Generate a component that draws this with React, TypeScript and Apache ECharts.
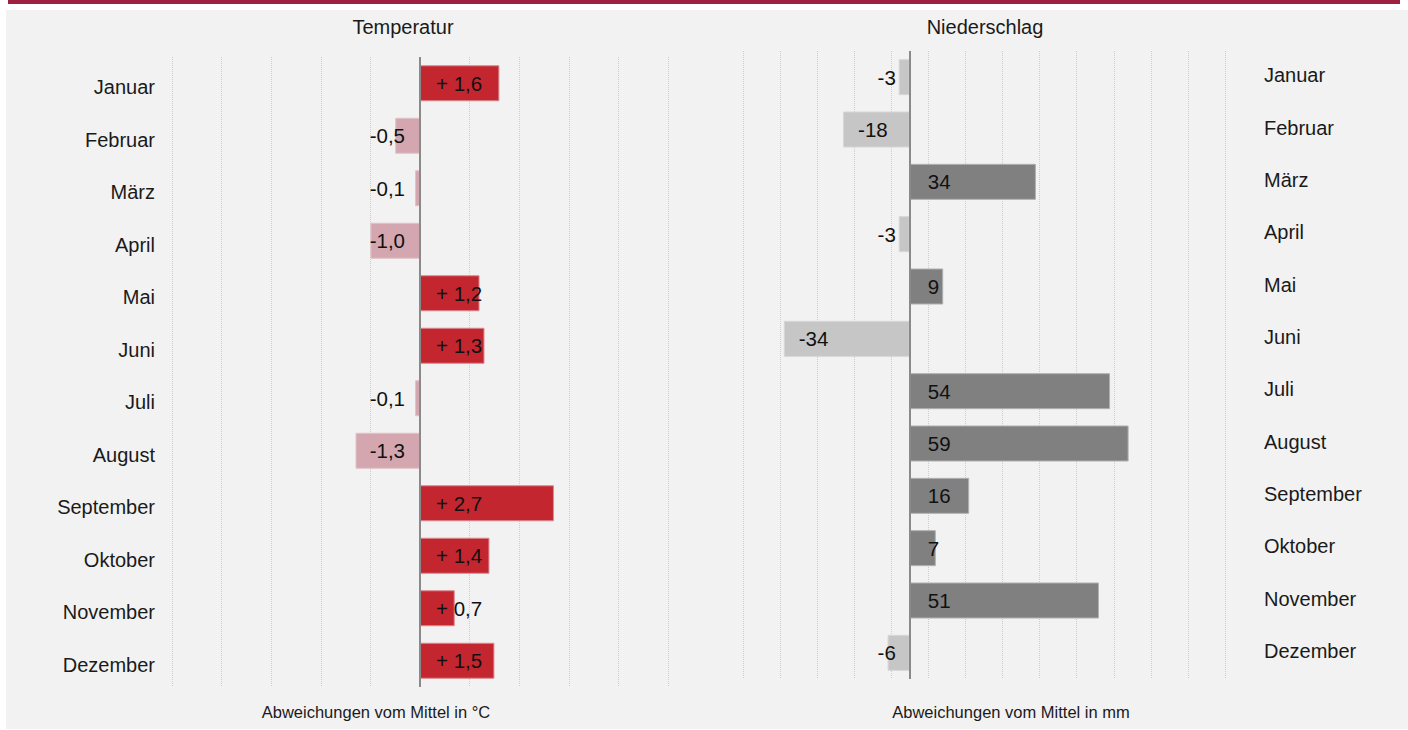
import React, { useEffect, useRef } from "react";
import * as echarts from "echarts";

const months = ["Januar", "Februar", "März", "April", "Mai", "Juni", "Juli", "August", "September", "Oktober", "November", "Dezember"];
const tempValues = [1.6, -0.5, -0.1, -1.0, 1.2, 1.3, -0.1, -1.3, 2.7, 1.4, 0.7, 1.5];
const precipValues = [-3, -18, 34, -3, 9, -34, 54, 59, 16, 7, 51, -6];
const tempAxisMin = -5;
const tempAxisMax = 5;
const tempAxisInterval = 1;
const precipAxisMin = -45;
const precipAxisMax = 85;
const precipGridInterval = 10;

const FONT = "'Liberation Sans', Arial, sans-serif";
const RED = "#c3262f";
const PINK = "#d4a7b0";
const DARK = "#808080";
const LIGHT = "#c6c6c6";

function fmtTemp(v: number) {
  const s = Math.abs(v).toFixed(1).replace(".", ",");
  return v > 0 ? "+ " + s : "-" + s;
}

export default function App() {
  const ref = useRef<HTMLDivElement>(null);
  useEffect(() => {
    if (!ref.current) return;
    const chart = echarts.init(ref.current, undefined, { renderer: "svg" });
    const splitLine = { show: true, lineStyle: { type: "dotted", color: "#cccccc", width: 1 } };
    const zeroLine = () => ({
      silent: true,
      symbol: ["none", "none"],
      label: { show: false },
      lineStyle: { type: "solid", color: "#8a8a8a", width: 2 },
      data: [{ xAxis: 0 }],
    });
    const option: any = {
      animation: false,
      backgroundColor: "#ffffff",
      textStyle: { fontFamily: FONT },
      graphic: [
        { type: "rect", z: -10, shape: { x: 6, y: 10, width: 1402, height: 719 }, style: { fill: "#f2f2f2" } },
        { type: "rect", z: -10, shape: { x: 8, y: 0, width: 1392, height: 4 }, style: { fill: "#9d2141" } },
        { type: "text", x: 403, y: 27, style: { text: "Temperatur", fontFamily: FONT, fontSize: 20, fill: "#1a1a1a", align: "center", verticalAlign: "middle" } },
        { type: "text", x: 985, y: 27, style: { text: "Niederschlag", fontFamily: FONT, fontSize: 20, fill: "#1a1a1a", align: "center", verticalAlign: "middle" } },
        { type: "text", x: 376, y: 712, style: { text: "Abweichungen vom Mittel in °C", fontFamily: FONT, fontSize: 16.5, fill: "#1a1a1a", align: "center", verticalAlign: "middle" } },
        { type: "text", x: 1011, y: 712, style: { text: "Abweichungen vom Mittel in mm", fontFamily: FONT, fontSize: 16.5, fill: "#1a1a1a", align: "center", verticalAlign: "middle" } },
      ],
      grid: [
        { left: 172, width: 496, top: 57, height: 630 },
        { left: 743, width: 482, top: 51, height: 628 },
      ],
      xAxis: [
        {
          gridIndex: 0, type: "value", min: tempAxisMin, max: tempAxisMax, interval: tempAxisInterval,
          axisLabel: { show: false }, axisLine: { show: false }, axisTick: { show: false }, splitLine,
        },
        {
          gridIndex: 1, type: "value", min: precipAxisMin, max: precipAxisMax,
          axisLabel: { show: false }, axisLine: { show: false }, axisTick: { show: false }, splitLine: { show: false },
        },
        {
          gridIndex: 1, type: "value", min: 0, max: precipAxisMax - precipAxisMin, interval: precipGridInterval,
          axisLabel: { show: false }, axisLine: { show: false }, axisTick: { show: false }, splitLine,
        },
      ],
      yAxis: [
        {
          gridIndex: 0, type: "category", data: months, inverse: true, position: "left",
          axisLine: { show: false }, axisTick: { show: false }, splitLine: { show: false },
          axisLabel: {
            color: "#1a1a1a", fontSize: 20, fontFamily: FONT, margin: 17,
            formatter: "{a|{value}}",
            rich: { a: { color: "#1a1a1a", fontSize: 20, fontFamily: FONT, padding: [8, 0, 0, 0] } },
          },
        },
        {
          gridIndex: 1, type: "category", data: months, inverse: true, position: "right",
          axisLine: { show: false }, axisTick: { show: false }, splitLine: { show: false },
          axisLabel: {
            color: "#1a1a1a", fontSize: 20, fontFamily: FONT, margin: 39, align: "left",
            formatter: "{a|{value}}",
            rich: { a: { color: "#1a1a1a", fontSize: 20, fontFamily: FONT, padding: [0, 0, 4, 0] } },
          },
        },
      ],
      series: [
        {
          type: "bar", xAxisIndex: 0, yAxisIndex: 0, barWidth: 36,
          data: tempValues.map((v) => ({
            value: v,
            itemStyle: { color: v > 0 ? RED : PINK, borderColor: v > 0 ? "#d98890" : "#e0c2c8", borderWidth: 1 },
            label: { position: v > 0 ? "insideLeft" : "insideRight", distance: v > 0 ? 16 : 15 },
          })),
          label: {
            show: true, color: "#111111", fontSize: 20.5, fontFamily: FONT,
            formatter: (p: any) => fmtTemp(p.value),
          },
          markLine: zeroLine(),
        },
        {
          type: "bar", xAxisIndex: 1, yAxisIndex: 1, barWidth: 36,
          data: precipValues.map((v) => ({
            value: v,
            itemStyle: { color: v > 0 ? DARK : LIGHT, borderColor: v > 0 ? "#b0b0b0" : "#d6d6d6", borderWidth: 1 },
            label: {
              position: v > 0 ? "insideLeft" : v < -10 ? "insideLeft" : "insideRight",
              distance: v > 0 ? 18 : v < -10 ? 15 : 14,
            },
          })),
          label: {
            show: true, color: "#111111", fontSize: 20.5, fontFamily: FONT,
            formatter: (p: any) => String(p.value),
          },
          markLine: zeroLine(),
        },
      ],
    };
    chart.setOption(option);
    return () => chart.dispose();
  }, []);
  return <div ref={ref} style={{ position: "absolute", left: 0, top: 0, width: 1408, height: 730 }} />;
}
